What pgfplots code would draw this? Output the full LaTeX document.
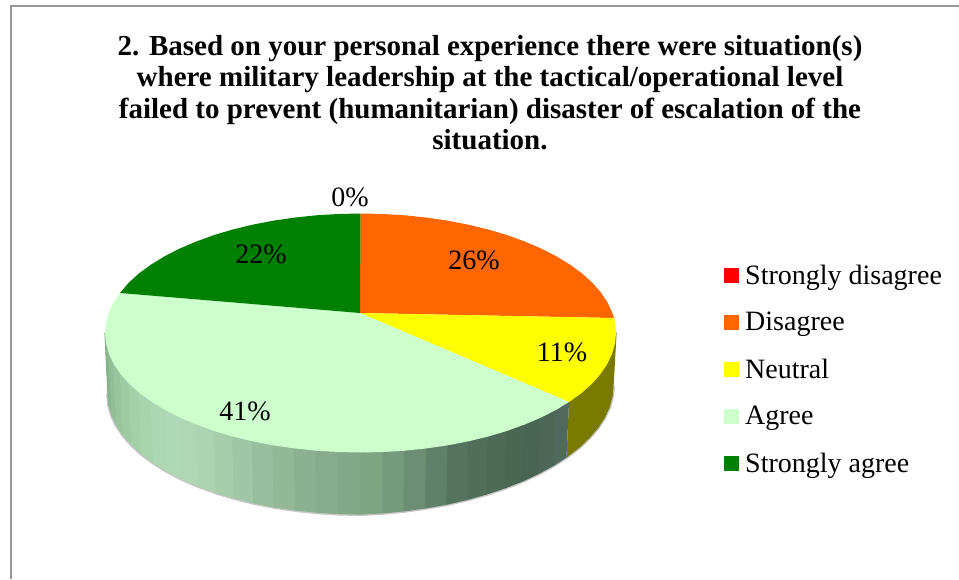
\documentclass[border=0pt]{standalone}
\usepackage{pgfplots}
\pgfplotsset{compat=1.18}
\usepackage{fontspec}
\setmainfont{Liberation Serif}
\newcommand\W[4]{\addplot[forget plot,fill={rgb,255:red,#1;green,#2;blue,#3},draw={rgb,255:red,#1;green,#2;blue,#3},line width=1.2pt,line join=round] coordinates {#4};}
\definecolor{cdis}{RGB}{255,102,0}
\definecolor{cneu}{RGB}{255,255,0}
\definecolor{cagr}{RGB}{204,255,204}
\definecolor{csag}{RGB}{0,128,0}
\begin{document}
\begin{tikzpicture}
\begin{axis}[
  scale only axis, width=959pt, height=579pt,
  xmin=0, xmax=959, ymin=0, ymax=579, y dir=reverse,
  axis lines=none, clip=true,
  legend style={at={(axis cs:724,264.5)}, anchor=north west, draw=none, fill=none,
    font=\fontsize{28}{30}\selectfont, row sep=26.5pt, inner sep=0pt,
    nodes={anchor=west, inner sep=0pt, outer sep=0pt}},
  legend cell align=left,
  legend image code/.code={\fill[#1] (0pt,-7.5pt) rectangle (15pt,7.5pt);\path (0pt,0pt) -- (21pt,0pt);},
]
\path (rel axis cs:0,0) rectangle (rel axis cs:1,1);
% frame
\addplot[forget plot, draw={rgb,255:red,150;green,150;blue,150}, line width=2pt] coordinates {(959,6)(10.5,6)(10.5,579)};
% soft shadow
\addplot[forget plot, draw=gray, opacity=.45, line width=4pt, line join=round] coordinates {(613,386)(612,396.5)(609.2,406.9)(604.4,417.4)(597.8,427.5)(589.3,437.4)(579.2,447.1)(566.5,456.9)(553.9,465)(539,473.2)(522.8,480.8)(505.3,487.7)(486.8,493.9)(467.2,499.4)(446.9,504.1)(425.8,507.8)(404.3,510.8)(382.5,512.8)(360.5,514)(338.5,513.5)(316.7,512.2)(295.2,509.9)(274.1,506.8)(253.8,502.8)(234.2,497.9)(215.7,492.3)(198.2,485.9)(182,478.9)(167.1,471.1)(153.7,462.8)(141.8,454)(131.7,444.7)(123.2,435)(116.6,425.1)(111.8,414.8)(109,404.5)(108,394)};
% olive wall
\W{122}{122}{0}{(569,402)(581.8,392.8)(592.1,383.5)(600.6,373.9)(607.3,363.9)(612.1,353.7)(615,343.4)(616,333)(613,386)(612,396.5)(609.2,406.9)(604.4,417.4)(597.8,427.5)(589.3,437.4)(579.2,447.1)(566.5,456.9)}
% agree wall strips
\W{125}{170}{130}{(106,343.4)(105,333)(108,394)(109,404.5)}
\W{135}{180}{140}{(108.9,353.7)(106,343.4)(109,404.5)(111.8,414.8)}
\W{145}{190}{150}{(113.7,363.9)(108.9,353.7)(111.8,414.8)(116.6,425.1)}
\W{152}{197}{156}{(120.4,373.9)(113.7,363.9)(116.6,425.1)(123.2,435)}
\W{158}{203}{162}{(128.9,383.5)(120.4,373.9)(123.2,435)(131.7,444.7)}
\W{164}{208}{168}{(139.2,392.8)(128.9,383.5)(131.7,444.7)(141.8,454)}
\W{168}{212}{172}{(151.2,401.5)(139.2,392.8)(141.8,454)(153.7,462.8)}
\W{172}{215}{177}{(164.8,409.8)(151.2,401.5)(153.7,462.8)(167.1,471.1)}
\W{175}{216}{180}{(179.8,417.5)(164.8,409.8)(167.1,471.1)(182,478.9)}
\W{175}{215}{180}{(196.3,424.5)(179.8,417.5)(182,478.9)(198.2,485.9)}
\W{172}{212}{177}{(213.9,430.9)(196.3,424.5)(198.2,485.9)(215.7,492.3)}
\W{166}{206}{171}{(232.7,436.5)(213.9,430.9)(215.7,492.3)(234.2,497.9)}
\W{160}{199}{165}{(252.5,441.3)(232.7,436.5)(234.2,497.9)(253.8,502.8)}
\W{152}{191}{157}{(273.1,445.3)(252.5,441.3)(253.8,502.8)(274.1,506.8)}
\W{146}{184}{150}{(294.4,448.4)(273.1,445.3)(274.1,506.8)(295.2,509.9)}
\W{140}{177}{145}{(316.1,450.7)(294.4,448.4)(295.2,509.9)(316.7,512.2)}
\W{135}{172}{140}{(338.2,452)(316.1,450.7)(316.7,512.2)(338.5,513.5)}
\W{130}{168}{135}{(360.5,452.5)(338.2,452)(338.5,513.5)(360.5,514)}
\W{125}{165}{130}{(382.8,452)(360.5,452.5)(360.5,514)(382.5,512.8)}
\W{118}{155}{124}{(404.9,450.7)(382.8,452)(382.5,512.8)(404.3,510.8)}
\W{108}{142}{115}{(426.6,448.4)(404.9,450.7)(404.3,510.8)(425.8,507.8)}
\W{95}{128}{105}{(447.9,445.3)(426.6,448.4)(425.8,507.8)(446.9,504.1)}
\W{85}{116}{95}{(468.5,441.3)(447.9,445.3)(446.9,504.1)(467.2,499.4)}
\W{80}{110}{90}{(488.3,436.5)(468.5,441.3)(467.2,499.4)(486.8,493.9)}
\W{76}{106}{86}{(507.1,430.9)(488.3,436.5)(486.8,493.9)(505.3,487.7)}
\W{74}{103}{84}{(524.7,424.5)(507.1,430.9)(505.3,487.7)(522.8,480.8)}
\W{72}{100}{82}{(541.2,417.5)(524.7,424.5)(522.8,480.8)(539,473.2)}
\W{76}{102}{88}{(556.2,409.8)(541.2,417.5)(539,473.2)(553.9,465)}
\W{80}{105}{95}{(569,402)(556.2,409.8)(553.9,465)(566.5,456.9)}
% top faces, in legend order
\addplot[fill=red, draw=none] coordinates {(360,313)(360.5,213.5)(360.5,213.5)};
\addlegendentry{Strongly disagree}
\addplot[fill=cdis, draw=none] coordinates {(360,313)(360.5,213.5)(382.8,214)(404.9,215.3)(426.6,217.6)(447.9,220.7)(468.5,224.7)(488.3,229.5)(507.1,235.1)(524.7,241.5)(541.2,248.5)(556.2,256.2)(569.8,264.5)(581.8,273.2)(592.1,282.5)(600.6,292.1)(607.3,302.1)(612.1,312.3)(614,318)};
\addlegendentry{Disagree}
\addplot[fill=cneu, draw=none] coordinates {(360,313)(614,318)(615,322.6)(616,333)(615,343.4)(612.1,353.7)(607.3,363.9)(600.6,373.9)(592.1,383.5)(581.8,392.8)(569.8,401.5)(569,402)};
\addlegendentry{Neutral}
\addplot[fill=cagr, draw=none] coordinates {(360,313)(569,402)(556.2,409.8)(541.2,417.5)(524.7,424.5)(507.1,430.9)(488.3,436.5)(468.5,441.3)(447.9,445.3)(426.6,448.4)(404.9,450.7)(382.8,452)(360.5,452.5)(338.2,452)(316.1,450.7)(294.4,448.4)(273.1,445.3)(252.5,441.3)(232.7,436.5)(213.9,430.9)(196.3,424.5)(179.8,417.5)(164.8,409.8)(151.2,401.5)(139.2,392.8)(128.9,383.5)(120.4,373.9)(113.7,363.9)(108.9,353.7)(106,343.4)(105,333)(106,322.6)(108.9,312.3)(113.7,302.1)(120,293)};
\addlegendentry{Agree}
\addplot[fill=csag, draw=none] coordinates {(360,313)(120,293)(128.9,282.5)(139.2,273.2)(151.2,264.5)(164.8,256.2)(179.8,248.5)(196.3,241.5)(213.9,235.1)(232.7,229.5)(252.5,224.7)(273.1,220.7)(294.4,217.6)(316.1,215.3)(338.2,214)(360.5,213.5)};
\addlegendentry{Strongly agree}
% data labels
\node[font=\fontsize{28}{30}\selectfont] at (axis cs:350,197) {0\%};
\node[font=\fontsize{28}{30}\selectfont] at (axis cs:474,260) {26\%};
\node[font=\fontsize{28}{30}\selectfont] at (axis cs:562,352) {11\%};
\node[font=\fontsize{28}{30}\selectfont] at (axis cs:245,411) {41\%};
\node[font=\fontsize{28}{30}\selectfont] at (axis cs:261,254) {22\%};
% title
\node[anchor=north, align=center, inner sep=0pt, font=\fontsize{29}{31.5}\bfseries\selectfont] at (axis cs:490,35)
 {2. Based on your personal experience there were situation(s)\\
  where military leadership at the tactical/operational level\\
  failed to prevent (humanitarian) disaster of escalation of the\\
  situation.};
\end{axis}
\end{tikzpicture}
\end{document}
